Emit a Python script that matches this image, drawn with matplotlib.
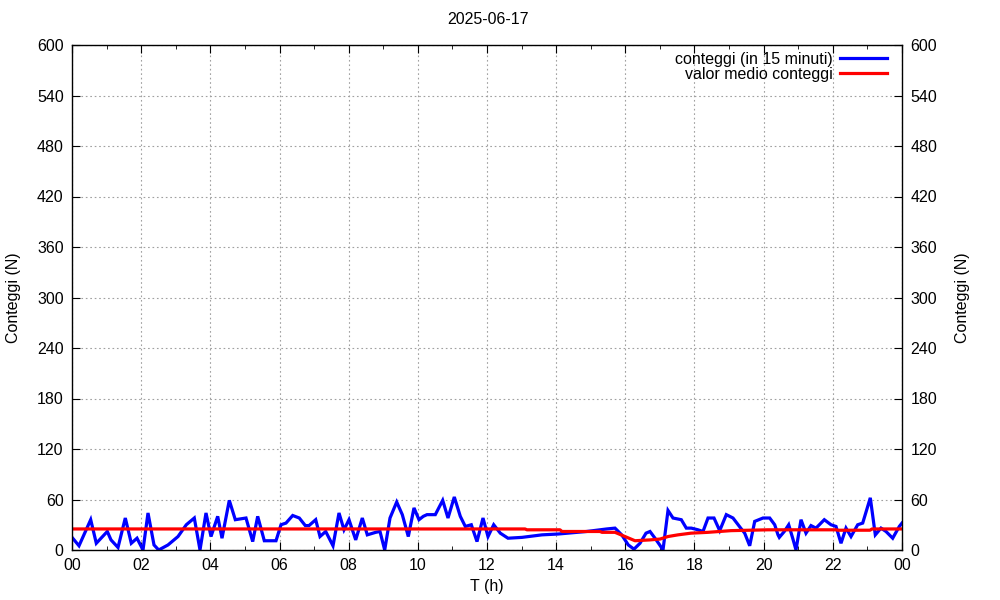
import matplotlib
matplotlib.use("Agg")
import matplotlib.pyplot as plt
import numpy as np

plt.rcParams['font.family'] = ['Liberation Sans', 'DejaVu Sans']

# pixel-derived x positions converted to hours below (x_px from reference)
count_px = [72, 79, 90.7, 96.3, 107.3, 111, 118, 125.3, 131.3, 137, 143, 148, 154, 158.7, 168, 178, 186.3,
            194.3, 200, 206, 211, 217.7, 222, 229.3, 235.3, 246, 252.7, 257.7, 264.3, 276, 281, 286, 292.7, 299.3,
            305.3, 309, 315.7, 320, 325.7, 333, 339, 344, 349, 355.7, 362.3, 367.3, 375.7, 380, 384.7, 390,
            396.7, 402.3, 408.3, 414, 419, 423.3, 427, 435.3, 442.7, 448, 454.3, 460.3, 465.3, 471.3, 477, 483,
            488, 493.7, 500.3, 508, 522, 542, 558.3, 586.7, 606.7, 615, 621.7, 628.3, 634, 640, 646, 650, 655,
            659.7, 663, 668, 673, 681.3, 686.3, 691.3, 698, 703, 708, 714, 719.7, 726.3, 733, 740.7, 744.7,
            749.7, 754.7, 763, 769.7, 774.7, 778, 779.3, 784.3, 788.7, 792.7, 796, 801, 806, 811, 816, 824.3,
            831, 836, 841, 846, 851, 857.7, 862.7, 870.3, 875.3, 881, 886, 892.7, 899.3, 902]
counts = [15, 5, 36, 8, 22, 12, 3, 38, 8, 14, 0, 44, 6, 0, 6, 16, 30,
          38, 0, 44, 16, 40, 14, 59, 36, 38, 10, 40, 11, 11, 30, 32, 41, 38,
          29, 29, 36, 16, 22, 5, 44, 24, 36, 12, 38, 18, 21, 22, 0, 38,
          57, 42, 16, 50, 36, 40, 42, 42, 59, 38, 63, 40, 28, 30, 10, 38,
          16, 30, 20, 14, 15, 18, 19, 22, 25, 26, 18, 6, 1, 8, 20, 22, 14,
          6, 0, 47, 38, 36, 26, 26, 24, 22, 38, 38, 23, 42, 38, 26, 20,
          5, 34, 38, 38, 30, 18, 15, 22, 30, 14, 0, 36, 20, 29, 26, 36,
          30, 28, 8, 26, 16, 30, 32, 62, 18, 26, 22, 14, 28, 32]

mean_px = [72, 525, 527, 560, 562, 600, 602, 615, 625, 635, 650, 660, 668, 678, 691, 708, 731, 768, 775, 836, 838, 870, 872, 902]
mean_vals = [25, 25, 24, 24, 22, 22, 21, 21, 16, 11, 12, 13, 16, 18, 20, 21, 23, 24, 24, 24, 23.5, 23.5, 25, 25]

x0_px, px_per_h = 72.0, 830.0 / 24.0
count_t = [(p - x0_px) / px_per_h for p in count_px]
mean_t = [(p - x0_px) / px_per_h for p in mean_px]

xtick_labels = ['00', '02', '04', '06', '08', '10', '12', '14', '16', '18', '20', '22', '00']

fig = plt.figure(figsize=(10, 6), dpi=100)
ax = fig.add_axes([0.072, 1 - 550 / 600, 0.830, 505 / 600])

ax.plot(count_t, counts, color='#0000ff', lw=2.3, label='conteggi (in 15 minuti)', solid_joinstyle='miter')
ax.plot(mean_t, mean_vals, color='#ff0000', lw=2.3, label='valor medio conteggi')

ax.set_xlim(0, 24)
ax.set_ylim(0, 600)
ax.set_xticks(np.arange(0, 25, 2))
ax.set_xticklabels(xtick_labels)
ax.set_xticks(np.arange(1, 24, 2), minor=True)
ax.set_yticks(np.arange(0, 601, 60))

ax.grid(True, which='major', color='#a0a0a0', linestyle=(0, (1.5, 2.5)), lw=0.8)
ax.tick_params(which='both', direction='in', top=True, right=True, labelright=True,
               labelsize=11.5, pad=6, colors='black')
ax.tick_params(which='major', length=6)
ax.tick_params(which='minor', length=3)
for s in ax.spines.values():
    s.set_linewidth(1.0)

ax.set_xlabel('T (h)', fontsize=11.5, labelpad=4)
ax.set_ylabel('Conteggi (N)', fontsize=11.5, labelpad=11.5)
ax2 = ax.secondary_yaxis('right')
ax2.set_yticks([])
ax2.set_ylabel('Conteggi (N)', fontsize=11.5, labelpad=38.5)
ax2.tick_params(length=0)
ax2.spines['right'].set_visible(False)

fig.text(0.488, 1 - 20 / 600, '2025-06-17', ha='center', va='center', fontsize=11.5)

leg = ax.legend(loc='upper right', frameon=False, markerfirst=False, fontsize=11.5,
                handlelength=2.95, handletextpad=0.45, labelspacing=0.0,
                borderaxespad=0.0, bbox_to_anchor=(0.9896, 0.999))
for t in leg.get_texts():
    t.set_ha('right')

fig.savefig('out.png', dpi=100)
